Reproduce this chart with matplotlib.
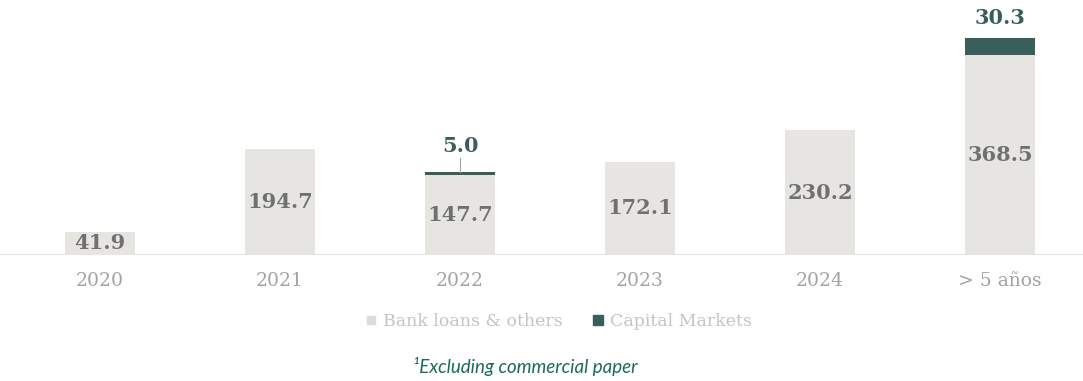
import matplotlib.pyplot as plt
from matplotlib.lines import Line2D

years = ["2020", "2021", "2022", "2023", "2024", "> 5 años"]
bank_loans = [41.9, 194.7, 147.7, 172.1, 230.2, 368.5]
capital_markets = [0, 0, 5.0, 0, 0, 30.3]

GRAY = "#e7e5e2"
GREEN = "#3a5f5b"
SERIF = ["DejaVu Serif"]

fig = plt.figure(figsize=(10.83, 3.81), dpi=100)
ax = fig.add_axes([0, (381 - 255) / 381, 1, 255 / 381])

x = list(range(len(years)))
ax.bar(x, bank_loans, width=0.39, color=GRAY, zorder=2)
ax.bar(x, capital_markets, width=0.39, bottom=bank_loans, color=GREEN, zorder=3)

for i, (b, c) in enumerate(zip(bank_loans, capital_markets)):
    yb = b / 2 if b > 60 else b / 2 + 1
    ax.text(i, yb, f"{b:.1f}", ha="center", va="center", fontsize=15,
            fontweight="bold", color="#707070", family=SERIF, zorder=4)
    if c > 0:
        top = b + c
        if c < 10:
            ax.plot([i, i], [top, top + 26], color="#9aa8a6", lw=0.8, zorder=3)
            ax.text(i, top + 29, f"{c:.1f}", ha="center", va="bottom", fontsize=15,
                    fontweight="bold", color=GREEN, family=SERIF)
        else:
            ax.text(i, top + 20, f"{c:.1f}", ha="center", va="bottom", fontsize=15,
                    fontweight="bold", color=GREEN, family=SERIF)

ax.set_xlim(-100 / 180, (1083 - 100) / 180)
ax.set_ylim(0, 255 / 0.543)
ax.axhline(0, color="#dedede", lw=2, zorder=1)
for s in ax.spines.values():
    s.set_visible(False)
ax.set_yticks([])
ax.set_xticks(x)
ax.set_xticklabels(years, family=SERIF, fontsize=13.5, color="#a3a3a3")
ax.tick_params(axis="x", length=0, pad=12)

handles = [
    Line2D([], [], marker="s", ls="", color="#dcdcdc", markersize=6),
    Line2D([], [], marker="s", ls="", color=GREEN, markersize=7),
]
fig.legend(handles, ["Bank loans & others", "Capital Markets"], loc="center",
           bbox_to_anchor=(558 / 1083, 1 - 322 / 381), ncol=2, frameon=False,
           handletextpad=0.3, columnspacing=1.6, handlelength=0.8,
           labelcolor="#c4c4c4", prop={"family": SERIF, "size": 12.5})

fig.text(525 / 1083, 1 - 367 / 381, "\u00b9Excluding commercial paper", ha="center",
         va="center", fontsize=13.5, style="italic", color="#1b6a5a",
         family=["Lato", "DejaVu Sans"])

fig.savefig("out.png", dpi=100)
